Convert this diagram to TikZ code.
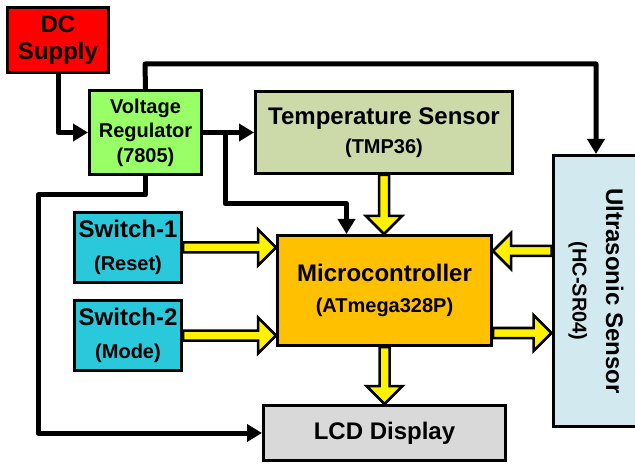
\documentclass[tikz,border=0pt]{standalone}
\usepackage{fontspec}
\setmainfont{Liberation Sans}
\usepackage{tikz}
\usetikzlibrary{arrows.meta, positioning, calc}
\definecolor{supplyred}{HTML}{FF0000}
\definecolor{regulgreen}{HTML}{99FF66}
\definecolor{tempsage}{HTML}{CCDAAA}
\definecolor{switchcyan}{HTML}{29C8DB}
\definecolor{mcuorange}{HTML}{FFC000}
\definecolor{sonicblue}{HTML}{D2E9F0}
\definecolor{lcdgray}{HTML}{D9D9D9}
\tikzset{
    block/.style={rectangle, draw, line width=3pt, inner sep=2pt, align=center, font=\bfseries\fontsize{24}{27}\selectfont},
    supplynode/.style={block, fill=supplyred, minimum width=101pt, minimum height=65pt},
    regnode/.style={block, fill=regulgreen, minimum width=112pt, minimum height=84pt, font=\bfseries\fontsize{20}{24.5}\selectfont},
    tempnode/.style={block, fill=tempsage, minimum width=257pt, minimum height=82pt, font=\bfseries\fontsize{24}{28.5}\selectfont},
    switchnode/.style={block, fill=switchcyan, minimum width=107pt, minimum height=70pt, font=\bfseries\fontsize{24}{33.5}\selectfont},
    mcunode/.style={block, fill=mcuorange, minimum width=214pt, minimum height=110pt, font=\bfseries\fontsize{24}{31.5}\selectfont},
    sonicnode/.style={block, fill=sonicblue, minimum width=86pt, minimum height=271pt},
    lcdnode/.style={block, fill=lcdgray, minimum width=242pt, minimum height=55pt},
    sublabel/.style={font=\bfseries\fontsize{20}{24}\selectfont},
    wire/.style={line width=5pt, line join=round, -{Triangle[length=15pt, width=17pt]}},
    fat arrow/.style={draw, fill=yellow, line width=2.5pt, line join=miter}
}
% yellow block arrow from #1 to #2
\newcommand{\fatarrow}[2]{%
  \coordinate (fa-h) at ($(#2)!18pt!(#1)$);
  \draw[fat arrow] ($(#1)!5pt!90:(#2)$) -- ($(fa-h)!5pt!-90:(#1)$) -- ($(fa-h)!18pt!-90:(#1)$)
    -- (#2) -- ($(fa-h)!18pt!90:(#1)$) -- ($(fa-h)!5pt!90:(#1)$) -- ($(#1)!5pt!-90:(#2)$) -- cycle;}

\begin{document}
\begin{tikzpicture}[x=1pt, y=-1pt]
% Block diagram of the ultrasonic / temperature measuring unit.
  \clip (0,0) rectangle (635,465);
  \node[supplynode] (dc) at (58,40) {DC\\Supply};
  \node[regnode] (vr) at (145.5,132.5) {Voltage\\Regulator\\(7805)};
  \node[tempnode] (ts) at (384,132.5) {Temperature Sensor\\{\fontsize{20}{24}\selectfont(TMP36)}};
  \node[switchnode] (sw1) at (128,247.5) {Switch-1\\{\fontsize{20}{24}\selectfont(Reset)}};
  \node[switchnode] (sw2) at (128,335.5) {Switch-2\\{\fontsize{20}{24}\selectfont(Mode)}};
  \node[mcunode] (mcu) at (384.5,290.5) {Microcontroller\\{\fontsize{20}{24}\selectfont(ATmega328P)}};
  \node[sonicnode] (us) at (596,291) {};
  \node[block, draw=none, fill=none, rotate=-90, font=\bfseries\fontsize{24}{33.5}\selectfont] (us-text) at (us.center) {Ultrasonic Sensor\\{\fontsize{20}{24}\selectfont(HC-SR04)}};
  \node[lcdnode] (lcd) at (384.5,433) {LCD Display};
  % power wiring
  \coordinate (pwr-top) at (145,64);
  \coordinate (pwr-tap) at ($(vr.east)+(22,0)$);
  \coordinate (pwr-left) at (38,195);
  \draw[wire] (dc.south) |- (vr.west);
  \draw[wire] (vr.north) -- (pwr-top) -| (us.north);
  \draw[wire] (vr.east) -- (ts.west);
  \draw[wire] (pwr-tap) |- ++(0,71) -| ($(mcu.north)+(-38,0)$);
  \draw[wire] (vr.south) |- (pwr-left) |- (lcd.west);
  % signal paths
  \fatarrow{ts.south}{ts.south |- mcu.north}
  \fatarrow{sw1.east}{mcu.west |- sw1.east}
  \fatarrow{sw2.east}{mcu.west |- sw2.east}
  \coordinate (us-out) at ($(us.west)+(0,-40)$);
  \coordinate (mcu-out) at ($(mcu.east)+(0,42.5)$);
  \fatarrow{us-out}{mcu.east |- us-out}
  \fatarrow{mcu-out}{us.west |- mcu-out}
  \fatarrow{mcu.south}{mcu.south |- lcd.north}
\end{tikzpicture}
\end{document}
